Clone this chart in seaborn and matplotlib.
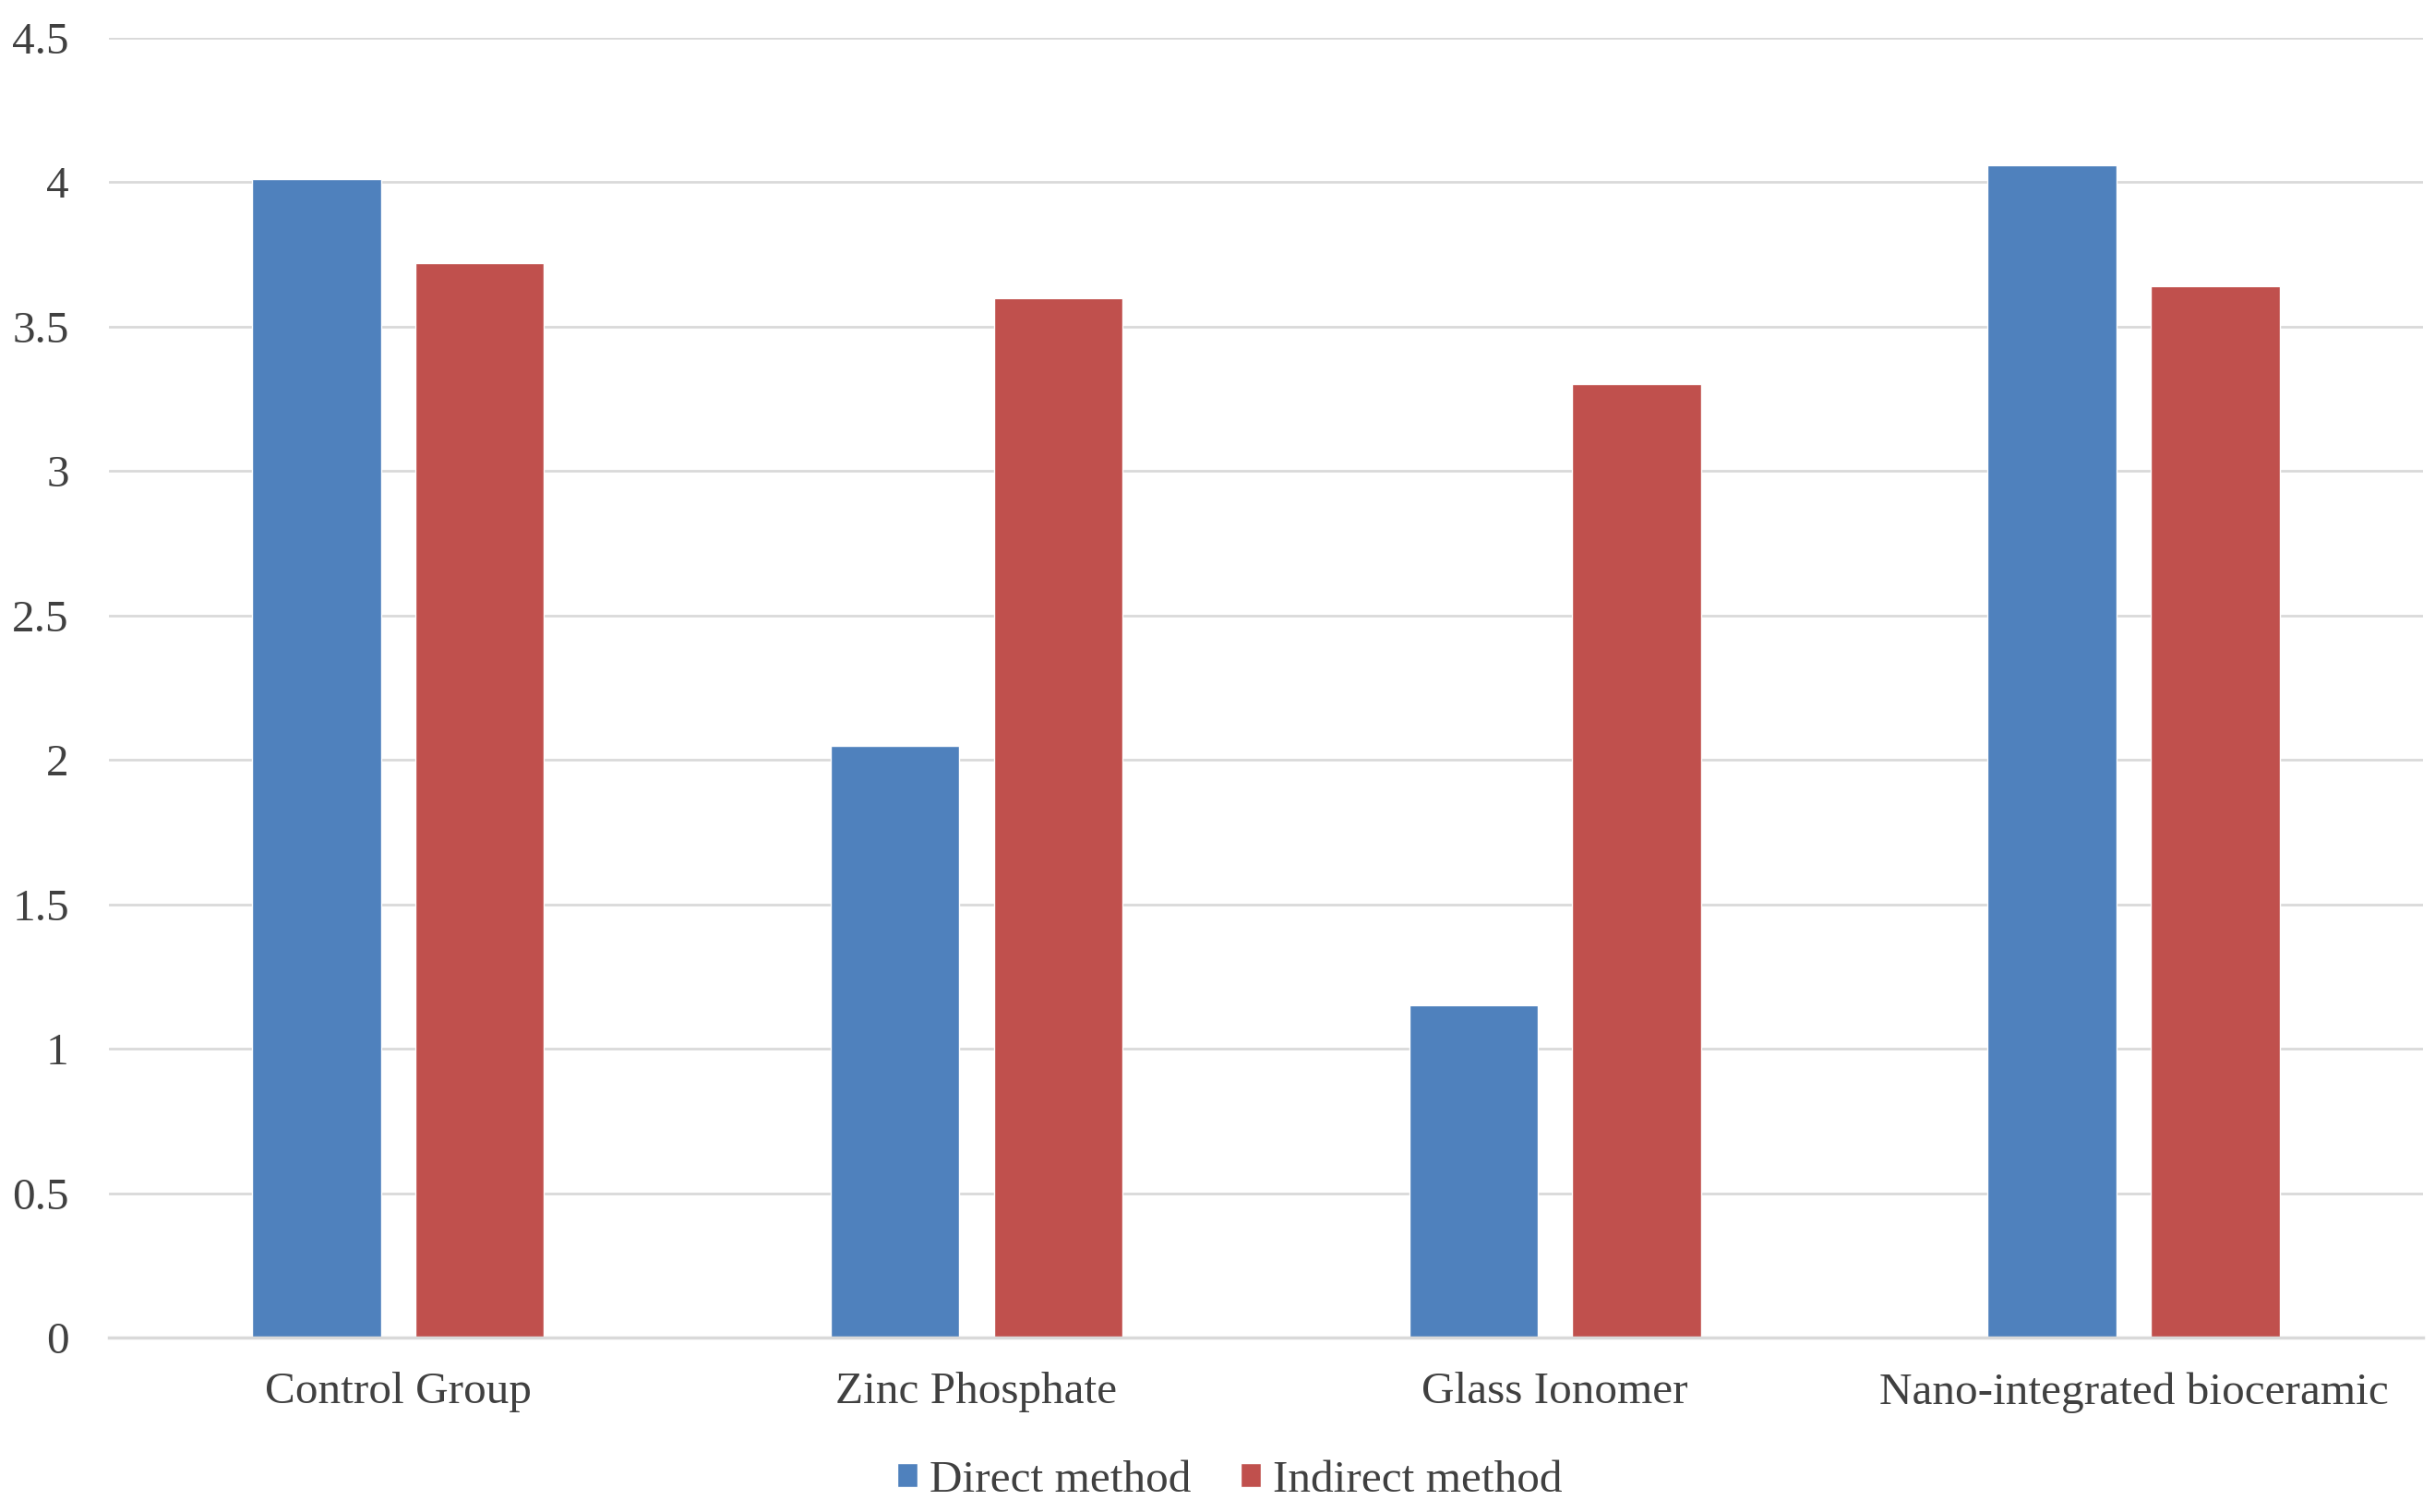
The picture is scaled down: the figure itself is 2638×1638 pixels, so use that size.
import seaborn as sns
import matplotlib.pyplot as plt
import pandas as pd
from matplotlib.ticker import FuncFormatter

# Data
groups = ['Control Group', 'Zinc Phosphate', 'Glass Ionomer', 'Nano-integrated bioceramic']
direct_method = [4.01, 2.05, 1.15, 4.06]
indirect_method = [3.72, 3.60, 3.30, 3.64]
methods = ['Direct method', 'Indirect method']
colors = ['#4F81BD', '#C0504D']

# Long format for seaborn
df = pd.DataFrame({
    'group': groups * 2,
    'value': direct_method + indirect_method,
    'method': [methods[0]] * len(groups) + [methods[1]] * len(groups),
})

sns.set_style('white')
plt.rcParams['font.family'] = ['Liberation Serif', 'DejaVu Serif']
text_color = '#404040'
grid_color = '#D9D9D9'
fs = 35.5

fig = plt.figure(figsize=(26.38, 16.38), dpi=100)
ax = fig.add_axes([0.0447, 0.1154, 0.9503, 0.8596])

sns.barplot(data=df, x='group', y='value', hue='method', order=groups,
            hue_order=methods, palette=colors, width=0.564, gap=0.21,
            saturation=1, ax=ax)

# Axes styling
ax.set_ylim(0, 4.5)
ax.set_xlim(-0.5, 3.5)
ax.set_yticks([i * 0.5 for i in range(10)])
ax.yaxis.set_major_formatter(FuncFormatter(lambda v, p: f'{v:g}'))
ax.set_xlabel('')
ax.set_ylabel('')
ax.grid(axis='y', color=grid_color, linewidth=2)
ax.set_axisbelow(True)
for side in ['left', 'right', 'top']:
    ax.spines[side].set_visible(False)
ax.spines['bottom'].set_color(grid_color)
ax.spines['bottom'].set_linewidth(2.5)
ax.tick_params(axis='y', length=0, pad=31, labelsize=fs, labelcolor=text_color)
ax.tick_params(axis='x', length=0, pad=27, labelsize=fs, labelcolor=text_color)

# Legend at the bottom
handles, labels = ax.get_legend_handles_labels()
ax.get_legend().remove()
fig.legend(handles, labels, loc='center', bbox_to_anchor=(0.505, 0.021),
           ncol=2, frameon=False, fontsize=fs, labelcolor=text_color,
           handlelength=0.45, handleheight=0.45, handletextpad=0.25,
           columnspacing=1.1)

fig.savefig('out.png', dpi=100)
